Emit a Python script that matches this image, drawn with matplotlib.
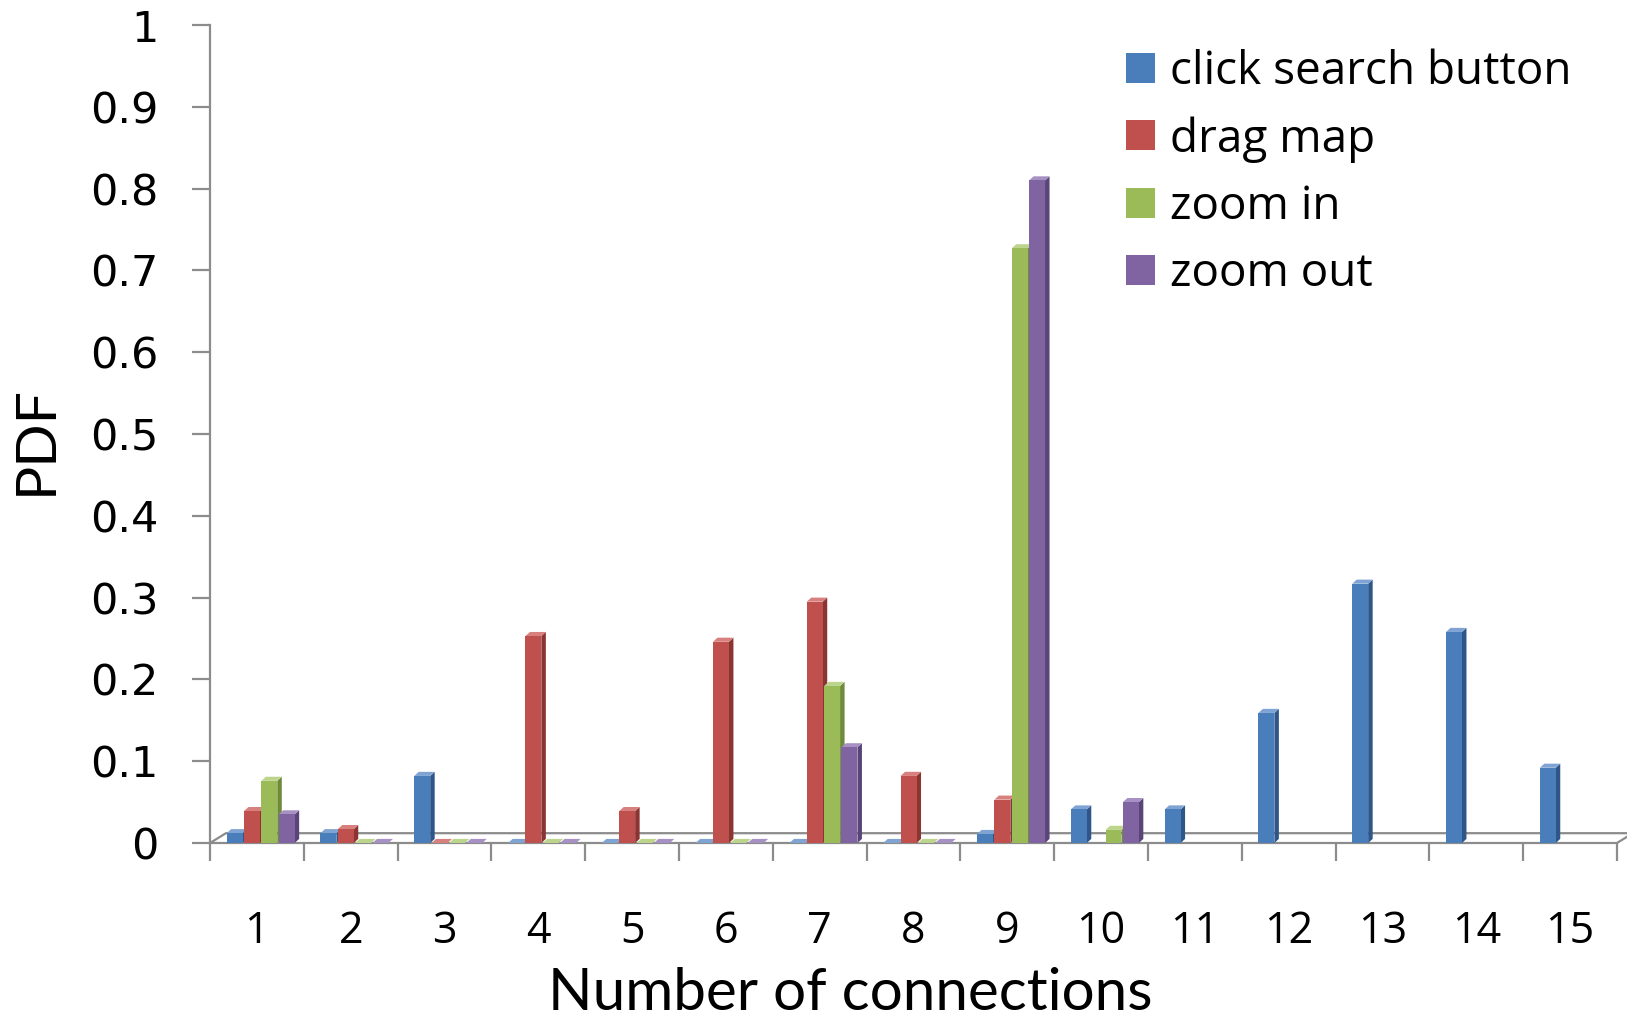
import matplotlib
matplotlib.use("Agg")
import matplotlib.pyplot as plt
import numpy as np
from matplotlib.patches import Patch, Polygon

nan = np.nan

categories = list(range(1, 16))
series_names = ["click search button", "drag map", "zoom in", "zoom out"]

click_search = [0.012, 0.012, 0.082, 0.0, 0.0, 0.0, 0.0, 0.0, 0.011, 0.041,
                0.041, 0.159, 0.317, 0.258, 0.092]
drag_map = [0.039, 0.017, 0.0, 0.253, 0.039, 0.246, 0.295, 0.082, 0.053, nan,
            nan, nan, nan, nan, nan]
zoom_in = [0.076, 0.0, 0.0, 0.0, 0.0, 0.0, 0.192, 0.0, 0.727, 0.016,
           nan, nan, nan, nan, nan]
zoom_out = [0.035, 0.0, 0.0, 0.0, 0.0, 0.0, 0.117, 0.0, 0.81, 0.05,
            nan, nan, nan, nan, nan]

y_ticks = [0, 0.1, 0.2, 0.3, 0.4, 0.5, 0.6, 0.7, 0.8, 0.9, 1]
y_tick_labels = ["0", "0.1", "0.2", "0.3", "0.4", "0.5", "0.6", "0.7", "0.8", "0.9", "1"]

# front / side / top colours for each series
front = ["#4a7ebb", "#c0504d", "#9bbb59", "#8064a2"]
side = ["#2f5689", "#8b3533", "#6e8a3b", "#5a4578"]
top = ["#7fa4d3", "#d8807d", "#bcd48c", "#a690c4"]

all_series = [click_search, drag_map, zoom_in, zoom_out]

fig = plt.figure(figsize=(16.27, 10.18), dpi=100)
ax = fig.add_axes([210 / 1627, 1 - 843 / 1018, 1 - 210 / 1627, 818 / 1018])
ax.set_xlim(0.5, 15.607)
ax.set_ylim(0, 1)

axis_grey = "#8c8c8c"
bar_w = 0.17
step = 0.185
shift = 0.04
dx, dy = 0.048, 0.005

# floor of the 3D plot
fdx, fdy = 0.17, 0.012
floor = Polygon([(0.5, 0), (15.5, 0), (15.5 + fdx, fdy), (0.5 + fdx, fdy)],
                closed=True, facecolor="white", edgecolor=axis_grey, lw=1.6,
                zorder=1, clip_on=False)
ax.add_patch(floor)

x = np.array(categories, dtype=float)
for i, vals in enumerate(all_series):
    vals = np.array(vals, dtype=float)
    xs = x + (i - 1.5) * step + shift
    for xc, v in zip(xs, vals):
        if np.isnan(v):
            continue
        x0, x1 = xc - bar_w / 2, xc + bar_w / 2
        ax.add_patch(Polygon([(x1, 0), (x1 + dx, dy), (x1 + dx, v + dy), (x1, v)],
                             facecolor=side[i], edgecolor="none", zorder=3 + i))
        ax.add_patch(Polygon([(x0, v), (x1, v), (x1 + dx, v + dy), (x0 + dx, v + dy)],
                             facecolor=top[i], edgecolor="none", zorder=3 + i))
        ax.add_patch(Polygon([(x0, 0), (x1, 0), (x1, v), (x0, v)],
                             facecolor=front[i], edgecolor="none", zorder=3 + i))

for s in ["top", "right", "bottom"]:
    ax.spines[s].set_visible(False)
ax.spines["left"].set_color(axis_grey)
ax.spines["left"].set_linewidth(1.6)

ax.set_yticks(y_ticks)
ax.set_yticklabels(y_tick_labels, fontsize=31, family="DejaVu Sans")
ax.tick_params(axis="y", direction="out", length=13, width=1.6, color=axis_grey, pad=24)

# category separators as major ticks, labels on the minor ones
ax.set_xticks(np.arange(0.5, 15.6, 1.0))
ax.set_xticklabels([])
ax.set_xticks(categories, minor=True)
ax.set_xticklabels([str(c) for c in categories], minor=True, fontsize=31,
                   family="Open Sans")
ax.tick_params(axis="x", which="major", direction="out", length=13, width=1.6,
               color=axis_grey)
ax.tick_params(axis="x", which="minor", length=0, pad=48)

fig.text(36 / 1627, 1 - 440 / 1018, "PDF", rotation=90, fontsize=41, family="Lato",
         ha="center", va="center")
fig.text(850 / 1627, 1 - 994 / 1018, "Number of connections", fontsize=42, family="Lato",
         ha="center", va="center")

handles = [Patch(facecolor=front[i], edgecolor="none") for i in range(4)]
fig.legend(handles, series_names, loc="upper left",
           bbox_to_anchor=(1126 / 1627, 1 - 49 / 1018), frameon=False,
           prop={"family": "Open Sans", "size": 33},
           handlelength=0.63, handleheight=0.63, handletextpad=0.34,
           labelspacing=0.46, borderaxespad=0, borderpad=0)

fig.savefig("out.png", dpi=100)
